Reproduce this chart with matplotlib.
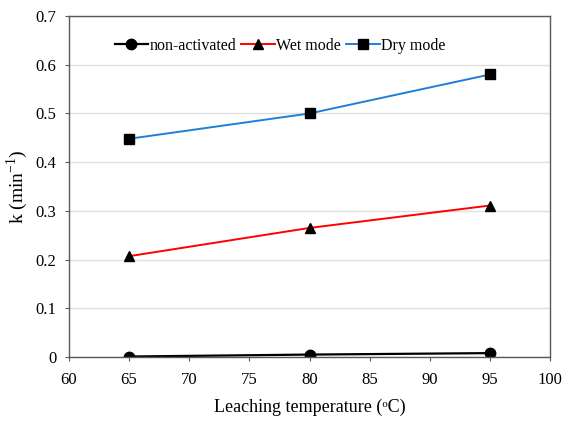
import matplotlib
matplotlib.use('Agg')
import matplotlib.pyplot as plt

plt.rcParams['font.family'] = ['Liberation Serif', 'DejaVu Serif']
plt.rcParams['mathtext.fontset'] = 'custom'
plt.rcParams['mathtext.rm'] = 'Liberation Serif'

# Rate constants vs leaching temperature
temps = [65, 80, 95]
k_non_activated = [0.001, 0.005, 0.008]
k_wet = [0.207, 0.265, 0.311]
k_dry = [0.448, 0.500, 0.580]

fig = plt.figure(figsize=(5.64, 4.22), dpi=100)
ax = fig.add_axes([0.1223, 0.154, 0.853, 0.808])

ax.plot(temps, k_non_activated, '-o', color='black', markerfacecolor='black',
        markersize=7.5, linewidth=1.6, label='non-activated')
ax.plot(temps, k_wet, '-^', color='#ff0000', markerfacecolor='black',
        markeredgecolor='black', markersize=7.5, linewidth=1.4, label='Wet mode')
ax.plot(temps, k_dry, '-s', color='#1f7fd6', markerfacecolor='black',
        markeredgecolor='black', markersize=7.5, linewidth=1.4, label='Dry mode')

ax.set_xlim(60, 100)
ax.set_ylim(0, 0.7)
ax.set_xticks(range(60, 101, 5))
ax.set_yticks([0, 0.1, 0.2, 0.3, 0.4, 0.5, 0.6, 0.7])
ax.set_yticklabels(['0', '0.1', '0.2', '0.3', '0.4', '0.5', '0.6', '0.7'])

ax.yaxis.grid(True, color='#e0e0e0', linewidth=1)
ax.set_axisbelow(True)
for sp in ax.spines.values():
    sp.set_color('#595959')
    sp.set_linewidth(1)
ax.tick_params(axis='both', direction='out', length=3, color='#595959',
               labelsize=12)
ax.tick_params(axis='x', pad=8)
ax.tick_params(axis='y', pad=6)

ax.set_xlabel('Leaching temperature (\u1d52C)', fontsize=13)
ax.set_ylabel('k (min$^{\\mathregular{-1}}$)', fontsize=14)
ax.xaxis.set_label_coords(0.5, -0.123)
ax.yaxis.set_label_coords(-0.08, 0.5)

ax.legend(loc='upper left', bbox_to_anchor=(0.075, 0.965), ncol=3, frameon=False,
          fontsize=11.5, handlelength=2.1, handletextpad=0.1, columnspacing=0.3,
          borderaxespad=0.2)

fig.savefig('out.png', dpi=100)
